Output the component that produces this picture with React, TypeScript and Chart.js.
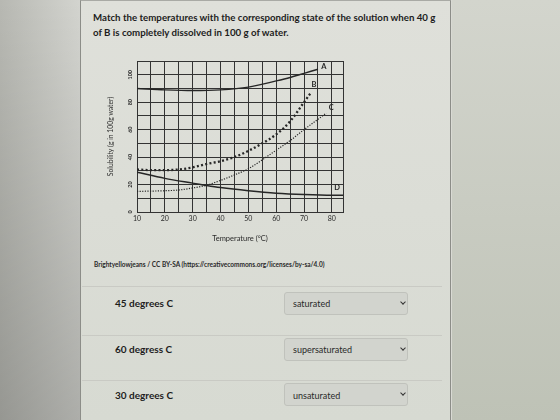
import React, { useEffect, useRef } from 'react';
import { Chart, registerables } from 'chart.js';

Chart.register(...registerables);

// ---- data ----
const seriesNames = ['A', 'B', 'C', 'D'];
const aTemps = [10, 20, 30, 40, 50, 60, 65, 70, 75];
const aSol = [90, 89, 88.5, 89, 91, 95.5, 98, 101, 104];
const bTemps = [10, 15, 20, 25, 30, 35, 40, 45, 50, 55, 60, 65, 70, 72.5];
const bSol = [31, 30.5, 30.5, 31, 32.5, 35, 37, 40, 44.5, 50, 56.5, 66, 80, 87];
const cTemps = [10, 20, 25, 30, 35, 40, 45, 50, 55, 60, 65, 70, 75, 78];
const cSol = [15, 15.5, 16, 17.5, 19.5, 23, 27, 31.5, 38, 45, 52, 60, 67.5, 72];
const dTemps = [10, 20, 30, 35, 40, 50, 60, 70, 80, 84];
const dSol = [29, 24.5, 21, 19.3, 17.8, 15.5, 13.7, 12.7, 12.2, 12.2];
const xGridValues = [10, 15, 20, 25, 30, 35, 40, 45, 50, 55, 60, 65, 70, 75, 80, 84];
const xLabelValues = [10, 20, 30, 40, 50, 60, 70, 80];
const yLabelValues = [0, 20, 40, 60, 80, 100];
const xMin = 10;
const xMax = 84;
const yMin = 0;
const yMax = 110;

const titleLines = [
  'Match the temperatures with the corresponding state of the solution when 40 g',
  'of B is completely dissolved in 100 g of water.',
];
const attribution = 'Brightyellowjeans / CC BY-SA (https://creativecommons.org/licenses/by-sa/4.0)';
const rowTemps = ['45 degrees C', '60 degress C', '30 degrees C'];
const rowStates = ['saturated', 'supersaturated', 'unsaturated'];

const pts = (xs: number[], ys: number[]) => xs.map((x, i) => ({ x, y: ys[i] }));

const INK = '#262626';
const FONT = 'Lato, "Open Sans", sans-serif';

// offsets (px) of the curve letters from the end of each curve
const labelOffsets: Record<string, [number, number]> = {
  A: [6, -3],
  B: [3, -8],
  C: [5, -6],
  D: [-6, -8],
};

const curveLabelPlugin = {
  id: 'curveLabels',
  afterDatasetsDraw(chart: any) {
    const ctx = chart.ctx;
    ctx.save();
    ctx.fillStyle = INK;
    ctx.font = `bold 7.5px ${FONT}`;
    ctx.textAlign = 'center';
    ctx.textBaseline = 'middle';
    chart.data.datasets.forEach((ds: any, i: number) => {
      const meta = chart.getDatasetMeta(i);
      const last = meta.data[meta.data.length - 1];
      if (!last) return;
      const off = labelOffsets[ds.label] || [0, 0];
      ctx.fillText(ds.label, last.x + off[0], last.y + off[1]);
    });
    ctx.restore();
  },
};

function SolubilityChart() {
  const ref = useRef<HTMLCanvasElement>(null);
  useEffect(() => {
    if (!ref.current) return;
    const series = [pts(aTemps, aSol), pts(bTemps, bSol), pts(cTemps, cSol), pts(dTemps, dSol)];
    const styles = [
      { borderWidth: 1.4, borderDash: [] as number[] },
      { borderWidth: 2.3, borderDash: [2, 2.3] },
      { borderWidth: 1.2, borderDash: [1.2, 1.4] },
      { borderWidth: 1.4, borderDash: [] as number[] },
    ];
    const chart = new Chart(ref.current, {
      type: 'line',
      data: {
        datasets: series.map((data, i) => ({
          label: seriesNames[i],
          data,
          borderColor: INK,
          backgroundColor: INK,
          borderWidth: styles[i].borderWidth,
          borderDash: styles[i].borderDash,
          pointRadius: 0,
          fill: false,
          cubicInterpolationMode: 'monotone' as const,
        })),
      },
      options: {
        animation: false,
        responsive: false,
        maintainAspectRatio: false,
        layout: { padding: { left: 3, top: 6, right: 5, bottom: 0 } },
        plugins: { legend: { display: false }, tooltip: { enabled: false } },
        scales: {
          x: {
            type: 'linear',
            min: xMin,
            max: xMax,
            afterBuildTicks: (scale: any) => {
              scale.ticks = xGridValues.map((value) => ({ value }));
            },
            afterFit: (scale: any) => {
              scale.height = 31;
            },
            grid: { color: '#333', lineWidth: 1, drawTicks: false },
            border: { color: '#333', width: 1 },
            ticks: {
              padding: 3,
              color: '#2a2a2a',
              font: { family: FONT, size: 7 },
              maxRotation: 0,
              autoSkip: false,
              callback: (v: any) => (xLabelValues.includes(Number(v)) ? String(v) : ''),
            },
            title: {
              display: true,
              text: 'Temperature (°C)',
              color: '#2a2a2a',
              font: { family: FONT, size: 7.5 },
              padding: { top: 0, bottom: 0 },
            },
          },
          y: {
            type: 'linear',
            min: yMin,
            max: yMax,
            afterFit: (scale: any) => {
              scale.width = 30;
            },
            grid: { color: '#333', lineWidth: 1, drawTicks: false },
            border: { color: '#333', width: 1 },
            ticks: {
              stepSize: 10,
              padding: 2,
              color: '#2a2a2a',
              crossAlign: 'center',
              minRotation: 90,
              maxRotation: 90,
              autoSkip: false,
              font: { family: FONT, size: 5.5, weight: 'bold' },
              callback: (v: any) => (yLabelValues.includes(Number(v)) ? String(v) : ''),
            },
            title: {
              display: true,
              text: 'Solubility (g in 100g water)',
              color: '#2a2a2a',
              font: { family: FONT, size: 6.8 },
              padding: { top: 0, bottom: 0 },
            },
          },
        },
      },
      plugins: [curveLabelPlugin],
    } as any);
    return () => chart.destroy();
  }, []);
  return (
    <canvas
      ref={ref}
      width={244}
      height={188}
      style={{ position: 'absolute', left: 104, top: 55, width: 244, height: 188 }}
    />
  );
}

export default function App() {
  const rowTops = [292, 338, 383];
  const rowBaselines = [306.5, 353, 398.5];
  const sepLines = [286, 335, 380];
  return (
    <div
      style={{
        position: 'fixed',
        left: 0,
        top: 0,
        width: 560,
        height: 420,
        overflow: 'hidden',
        fontFamily: FONT,
        background: '#d9dad4',
      }}
    >
      {/* left margin of the photographed screen */}
      <div
        style={{
          position: 'absolute',
          left: 0,
          top: 0,
          width: 80,
          height: 420,
          background:
            'linear-gradient(to bottom, rgba(0,0,0,0) 0%, rgba(0,0,0,0.18) 100%), linear-gradient(to right, #b7b8b2, #d3d4cf)',
        }}
      />
      {/* content area */}
      <div
        style={{
          position: 'absolute',
          left: 80,
          top: 0,
          width: 371,
          height: 420,
          background: 'linear-gradient(to bottom, #dfe0da, #d7dad2)',
          borderLeft: '1px solid #8c8d88',
          borderRight: '1px solid #8c8d88',
          borderTop: '1px solid #a9aaa5',
          boxSizing: 'border-box',
        }}
      />
      {/* right margin */}
      <div
        style={{
          position: 'absolute',
          left: 452,
          top: 0,
          width: 108,
          height: 420,
          background: 'linear-gradient(to bottom, #d3d5cd, #bec2b6)',
        }}
      />
      {/* question */}
      <div
        style={{
          position: 'absolute',
          left: 93,
          top: 10,
          fontSize: 9.7,
          fontWeight: 700,
          lineHeight: '15px',
          color: '#1d1d1d',
          whiteSpace: 'nowrap',
        }}
      >
        {titleLines[0]}
        <br />
        {titleLines[1]}
      </div>

      <SolubilityChart />

      <div
        style={{
          position: 'absolute',
          left: 94,
          top: 261,
          fontSize: 6.5,
          fontWeight: 700,
          lineHeight: '8px',
          color: '#2a2a2a',
          whiteSpace: 'nowrap',
        }}
      >
        {attribution}
      </div>

      {sepLines.map((y, i) => (
        <div
          key={'s' + i}
          style={{ position: 'absolute', left: 82, top: y, width: 360, height: 1, background: '#c9cac4' }}
        />
      ))}

      {rowTemps.map((t, i) => (
        <React.Fragment key={t}>
          <div
            style={{
              position: 'absolute',
              left: 115,
              top: rowBaselines[i] - 9,
              fontSize: 10,
              fontWeight: 700,
              lineHeight: '10px',
              color: '#1d1d1d',
              whiteSpace: 'nowrap',
            }}
          >
            {t}
          </div>
          <div
            style={{
              position: 'absolute',
              left: 284,
              top: rowTops[i],
              width: 124,
              height: 23,
              boxSizing: 'border-box',
              background: '#d2d4ce',
              border: '1px solid #c0c2bc',
              borderRadius: 3,
            }}
          />
          <div
            style={{
              position: 'absolute',
              left: 293,
              top: rowBaselines[i] - 8,
              fontSize: 9,
              lineHeight: '9px',
              color: '#2a2a2a',
              whiteSpace: 'nowrap',
            }}
          >
            {rowStates[i]}
          </div>
          <div
            style={{
              position: 'absolute',
              left: 401,
              top: rowTops[i] + 8,
              width: 3,
              height: 3,
              borderRight: '1.5px solid #333',
              borderBottom: '1.5px solid #333',
              transform: 'rotate(45deg)',
            }}
          />
        </React.Fragment>
      ))}
    </div>
  );
}
